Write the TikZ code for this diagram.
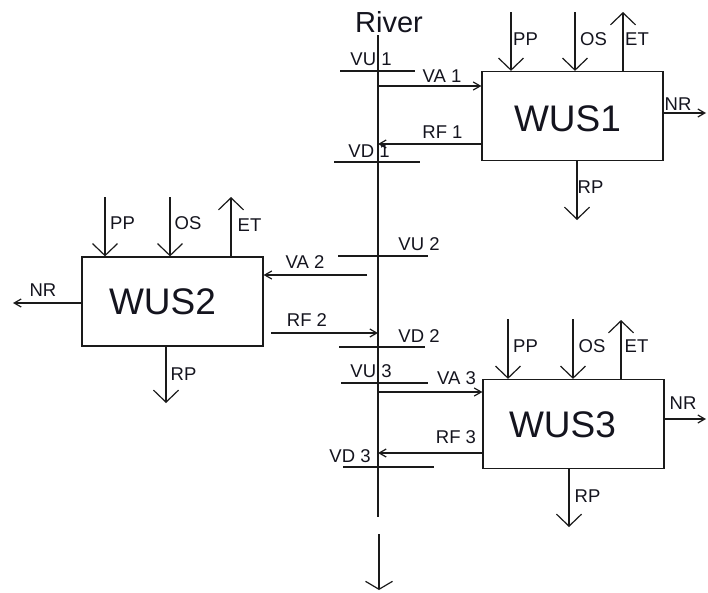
\documentclass[tikz,border=0pt]{standalone}
\usepackage{fontspec}
\setmainfont{Liberation Sans}
\usepackage{xcolor}
\usepackage{tikz}
\usetikzlibrary{positioning,calc,arrows.meta}
\definecolor{ink}{HTML}{1A1A1A}
\definecolor{labelink}{HTML}{14141E}

\tikzset{
  flow/.style={ink,line width=1.2pt},
  bigarrow/.style={flow,-{Straight Barb[length=12pt,width=25pt]}},
  smallarrow/.style={flow,-{Straight Barb[length=7pt,width=8pt]}},
  outarrow/.style={flow,-{Straight Barb[length=8pt,width=27pt]}},
  wusbox/.style={draw=ink,line width=1.2pt,minimum width=181pt,minimum height=89pt,inner sep=0pt},
  wustext/.style={labelink,inner sep=0pt,font=\fontsize{37}{40}\selectfont},
  tag/.style={labelink,inner sep=0pt,font=\fontsize{18.5}{22}\selectfont}
}

\begin{document}
\begin{tikzpicture}[x=1pt,y=-1pt]
    \useasboundingbox (0,0) rectangle (708,592);

    % river
    \node[labelink,inner sep=0pt,font=\fontsize{29}{32}\selectfont] (river) at (389,22.5) {River};
    \coordinate (rtop) at (378,35);
    \coordinate (rbot) at (378,517);
    \draw[flow] (rtop) -- (rbot);
    \coordinate (outtop) at (379,534);
    \coordinate (out) at (379,590);
    \draw[outarrow] (outtop) -- (out);

    % water use system 1
    \node[wusbox] (wus1) at (572.5,116) {};
    \node[wustext] (wus1text) at (567.5,119) {WUS1};
    \coordinate (pp1) at (511,12);
    \coordinate (os1) at (575,12);
    \coordinate (et1) at (623,12);
    \coordinate (nr1) at (706,113);
    \coordinate (rp1) at (577,220);
    \draw[bigarrow] (pp1) -- (pp1 |- wus1.north);
    \draw[bigarrow] (os1) -- (os1 |- wus1.north);
    \draw[bigarrow] (et1 |- wus1.north) -- (et1);
    \draw[smallarrow] (nr1 -| wus1.east) -- (nr1);
    \draw[bigarrow] (rp1 |- wus1.south) -- (rp1);
    \node[tag] (pp1lbl) at (525.5,39) {PP};
    \node[tag] (os1lbl) at (593.5,39) {OS};
    \node[tag] (et1lbl) at (637,39.5) {ET};
    \node[tag] (nr1lbl) at (678,104.5) {NR};
    \node[tag] (rp1lbl) at (590.5,187.5) {RP};
    \coordinate (va1) at (378,86);
    \coordinate (rf1) at (378,144);
    \draw[smallarrow] (va1) -- (va1 -| wus1.west);
    \draw[smallarrow] (rf1 -| wus1.west) -- (rf1);
    \node[tag] (va1lbl) at (442,76) {VA 1};
    \node[tag] (rf1lbl) at (442.5,132) {RF 1};
    \coordinate (vu1a) at (340,71);
    \coordinate (vu1b) at (415,71);
    \draw[flow] (vu1a) -- (vu1b);
    \node[tag] (vu1lbl) at (371,59) {VU 1};
    \coordinate (vd1a) at (334,162);
    \coordinate (vd1b) at (420,162);
    \draw[flow] (vd1a) -- (vd1b);
    \node[tag] (vd1lbl) at (369,151) {VD 1};

    % water use system 2
    \node[wusbox] (wus2) at (172.5,301.5) {};
    \node[wustext] (wus2text) at (162.5,301.7) {WUS2};
    \coordinate (pp2) at (105,197);
    \coordinate (os2) at (170,197);
    \coordinate (et2) at (231,197);
    \coordinate (nr2) at (13,303);
    \coordinate (rp2) at (166,403);
    \draw[bigarrow] (pp2) -- (pp2 |- wus2.north);
    \draw[bigarrow] (os2) -- (os2 |- wus2.north);
    \draw[bigarrow] (et2 |- wus2.north) -- (et2);
    \draw[smallarrow] (nr2 -| wus2.west) -- (nr2);
    \draw[bigarrow] (rp2 |- wus2.south) -- (rp2);
    \node[tag] (pp2lbl) at (122.5,223) {PP};
    \node[tag] (os2lbl) at (188,223) {OS};
    \node[tag] (et2lbl) at (249.5,225.5) {ET};
    \node[tag] (nr2lbl) at (43,290) {NR};
    \node[tag] (rp2lbl) at (183.5,374.5) {RP};
    \coordinate (va2) at (367,275);
    \coordinate (rf2) at (271,333);
    \draw[smallarrow] (va2) -- (va2 -| wus2.east);
    \draw[smallarrow] (rf2) -- (rf2 -| rtop);
    \node[tag] (va2lbl) at (305,262) {VA 2};
    \node[tag] (rf2lbl) at (307,320) {RF 2};
    \coordinate (vu2a) at (338,256);
    \coordinate (vu2b) at (428,256);
    \draw[flow] (vu2a) -- (vu2b);
    \node[tag] (vu2lbl) at (419,244) {VU 2};
    \coordinate (vd2a) at (339,347);
    \coordinate (vd2b) at (425,347);
    \draw[flow] (vd2a) -- (vd2b);
    \node[tag] (vd2lbl) at (419,336) {VD 2};

    % water use system 3
    \node[wusbox] (wus3) at (573.5,424) {};
    \node[wustext] (wus3text) at (562.5,424.5) {WUS3};
    \coordinate (pp3) at (508,319);
    \coordinate (os3) at (573,319);
    \coordinate (et3) at (621,320);
    \coordinate (nr3) at (706,419);
    \coordinate (rp3) at (569,527);
    \draw[bigarrow] (pp3) -- (pp3 |- wus3.north);
    \draw[bigarrow] (os3) -- (os3 |- wus3.north);
    \draw[bigarrow] (et3 |- wus3.north) -- (et3);
    \draw[smallarrow] (nr3 -| wus3.east) -- (nr3);
    \draw[bigarrow] (rp3 |- wus3.south) -- (rp3);
    \node[tag] (pp3lbl) at (525.5,346) {PP};
    \node[tag] (os3lbl) at (592,346) {OS};
    \node[tag] (et3lbl) at (636.5,346.5) {ET};
    \node[tag] (nr3lbl) at (683,403) {NR};
    \node[tag] (rp3lbl) at (587.5,496) {RP};
    \coordinate (va3) at (378,392);
    \coordinate (rf3) at (378,453);
    \draw[smallarrow] (va3) -- (va3 -| wus3.west);
    \draw[smallarrow] (rf3 -| wus3.west) -- (rf3);
    \node[tag] (va3lbl) at (456.5,378) {VA 3};
    \node[tag] (rf3lbl) at (456,437.5) {RF 3};
    \coordinate (vu3a) at (341,383);
    \coordinate (vu3b) at (428,383);
    \draw[flow] (vu3a) -- (vu3b);
    \node[tag] (vu3lbl) at (371,371.5) {VU 3};
    \coordinate (vd3a) at (343,467);
    \coordinate (vd3b) at (434,467);
    \draw[flow] (vd3a) -- (vd3b);
    \node[tag] (vd3lbl) at (350,456.5) {VD 3};
  \end{tikzpicture}
\end{document}
